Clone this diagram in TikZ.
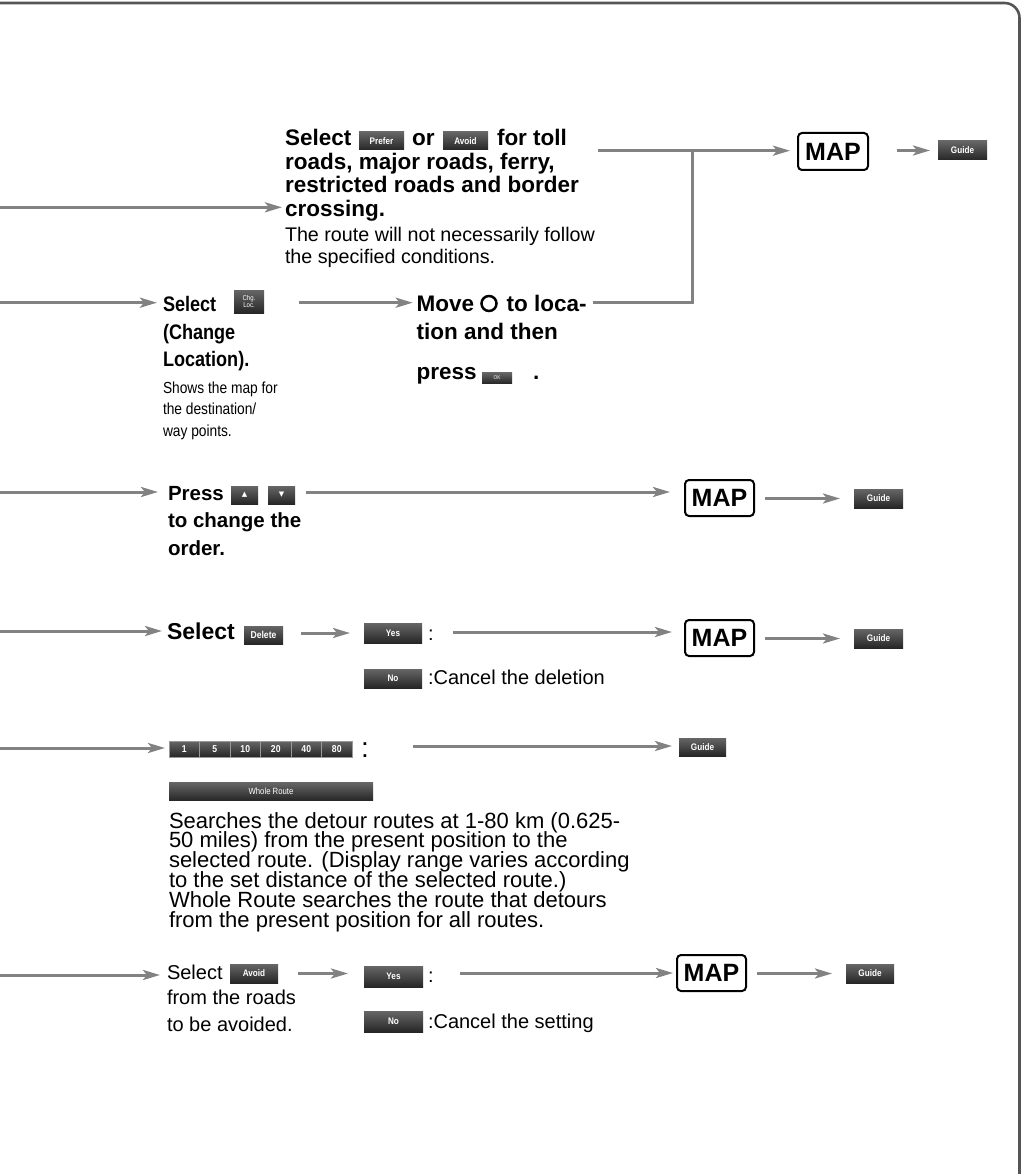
\documentclass[tikz,border=0pt]{standalone}
\usepackage{fontspec}
\setmainfont{Liberation Sans}
\newfontfamily\narrowfont[FakeStretch=0.86]{Liberation Sans}
\newfontfamily\symfont{DejaVu Sans}
\usetikzlibrary{arrows.meta}
\definecolor{linegray}{HTML}{828282}
\definecolor{framegray}{HTML}{555555}
\begin{document}
\begin{tikzpicture}[x=1pt,y=-1pt,
  arr/.style={draw=linegray, line width=3pt, -{Stealth[length=17pt,width=10pt,inset=4pt]}},
  ln/.style={draw=linegray, line width=3pt},
  tb/.style={anchor=base west, inner sep=0pt, outer sep=0pt},
  bA/.style={tb, font=\fontsize{22.5}{24}\selectfont\bfseries},
  rA/.style={tb, font=\fontsize{19.7}{22}\selectfont},
  bN/.style={tb, font=\narrowfont\fontsize{21}{24}\selectfont\bfseries},
  rN/.style={tb, font=\narrowfont\fontsize{16}{18}\selectfont},
  bB/.style={tb, font=\fontsize{20.5}{24}\selectfont\bfseries},
  bC/.style={tb, font=\fontsize{23}{24}\selectfont\bfseries},
  rB/.style={tb, font=\fontsize{20}{22}\selectfont},
  rC/.style={tb, font=\fontsize{22}{22}\selectfont},
  bsz/.style n args={2}{minimum width=#1, minimum height=#2},
  btn/.style={anchor=north west, inner sep=0pt, outer sep=0pt, top color=black!60, bottom color=black!85, text=white, font=\narrowfont\bfseries\fontsize{9.5}{9.5}\selectfont},
  mapbox/.style={anchor=north west, draw=black, line width=2pt, rounded corners=4pt, inner sep=0pt, outer sep=0pt, font=\fontsize{25}{25}\selectfont\bfseries},
]
\useasboundingbox (0,0) rectangle (1022,1174);
% frame
\draw[framegray, line width=2.6pt, rounded corners=15pt] (0,3) -- (1019.5,3) -- (1019.5,1176);

% ---------- free ends ----------
\coordinate (in1) at (0,207.3);
\coordinate (in2) at (0,302.7);
\coordinate (in3) at (0,492);
\coordinate (in4) at (0,631);
\coordinate (in5) at (0,748);
\coordinate (in6) at (0,975);

% ---------- row 1 ----------
\node[bA] (r1a) at (285,146) {Select};
\node[btn, bsz={45pt}{18pt}] (prefer) at (359,132) {Prefer};
\node[bA] (r1or) at (412,146) {or};
\node[btn, bsz={45pt}{18pt}] (avoid1) at (443,132) {Avoid};
\node[bA] (r1ft) at (497,146) {for toll};
\node[bA] (r1b) at (285,169.5) {roads, major roads, ferry,};
\node[bA] (r1c) at (285,193) {restricted roads and border};
\node[bA] (r1d) at (285,216.5) {crossing.};
\node[rA] (r1e) at (285,241.7) {The route will not necessarily follow};
\node[rA] (r1f) at (285,263.3) {the specified conditions.};
\coordinate (r1out) at (598,150.7);
\coordinate (j1) at (692,150.7);
\node[mapbox, bsz={70pt}{37pt}] (map1) at (798,133) {MAP};
\node[btn, bsz={49pt}{19pt}] (guide1) at (938,141) {Guide};

\draw[arr, shorten >=3pt] (in1) -- (in1 -| r1d.west);
\draw[arr, shorten >=8pt] (r1out) -- (r1out -| map1.west);
\draw[arr, shorten <=29pt, shorten >=8pt] (map1.east |- guide1.west) -- (guide1.west);

% ---------- row 2 ----------
\node[bN] (r2a) at (163,311) {Select};
\node[btn, bsz={30pt}{23pt}, align=center, font=\narrowfont\fontsize{7}{7}\selectfont] (chgloc) at (234,290) {Chg.\\Loc.};
\node[bN] (r2b) at (163,339) {(Change};
\node[bN] (r2c) at (163,366) {Location).};
\node[rN] (r2d) at (163,393) {Shows the map for};
\node[rN] (r2e) at (163,414.5) {the destination/};
\node[rN] (r2f) at (163,436) {way points.};

\node[bA] (mv1) at (416.7,311) {Move};
\node[draw=black, circle, line width=2.5pt, minimum size=15pt, inner sep=0pt] (cursor) at (489,303.5) {};
\node[bA] (mv2) at (506.7,311) {to loca-};
\node[bA] (mv3) at (416.7,339) {tion and then};
\node[bA] (mv4) at (416.7,379) {press};
\node[btn, bsz={30pt}{11pt}, font=\narrowfont\fontsize{5.5}{5.5}\selectfont] (okbtn) at (482,372.5) {OK};
\node[bA] (mv5) at (533,379) {.};
\coordinate (r2out) at (593,302.7);

\draw[arr, shorten >=6pt] (in2) -- (in2 -| r2a.west);
\draw[arr, shorten <=35pt, shorten >=4pt] (chgloc.east |- in2) -- (in2 -| mv1.west);
\draw[ln] (r2out) -| (j1);

% ---------- row 3 ----------
\node[bB] (r3a) at (168,500) {Press};
\node[btn, bsz={27pt}{18pt}, font=\symfont\fontsize{7}{7}\selectfont] (upbtn) at (231,486) {▲};
\node[btn, bsz={27pt}{18pt}, font=\symfont\fontsize{7}{7}\selectfont] (dnbtn) at (268,486) {▼};
\node[bB] (r3b) at (168,527) {to change the};
\node[bB] (r3c) at (168,555) {order.};
\coordinate (r3out) at (306,492);
\node[mapbox, bsz={69pt}{36pt}] (map2) at (685,480) {MAP};
\node[btn, bsz={49pt}{19pt}] (guide2) at (854,489) {Guide};

\draw[arr, shorten >=10pt] (in3) -- (in3 -| r3a.west);
\draw[arr, shorten >=15pt] (r3out) -- (r3out -| map2.west);
\draw[arr, shorten <=11pt, shorten >=14pt] (map2.east |- guide2.west) -- (guide2.west);

% ---------- row 4 ----------
\node[bC] (r4a) at (167,639) {Select};
\node[btn, bsz={39pt}{18pt}, font=\narrowfont\bfseries\fontsize{10}{10}\selectfont] (delbtn) at (244,626) {Delete};
\node[btn, bsz={58pt}{20pt}] (yes4) at (364,623) {Yes};
\node[rB] (c4a) at (428,640) {:};
\node[btn, bsz={58pt}{19pt}] (no4) at (364,669) {No};
\node[rB] (c4b) at (428,684.5) {:Cancel the deletion};
\coordinate (r4out) at (453,632);
\node[mapbox, bsz={69pt}{36pt}] (map3) at (685,620) {MAP};
\node[btn, bsz={49pt}{19pt}] (guide4) at (854,629) {Guide};

\draw[arr, shorten >=5pt] (in4) -- (in4 -| r4a.west);
\draw[arr, shorten <=18pt, shorten >=14pt] (delbtn.east |- yes4.west) -- (yes4.west);
\draw[arr, shorten >=13pt] (r4out) -- (r4out -| map3.west);
\draw[arr, shorten <=11pt, shorten >=14pt] (map3.east |- guide4.west) -- (guide4.west);

% ---------- row 5 ----------
\foreach \lab [count=\i] in {1,5,10,20,40,80}
  \node[btn, bsz={30.5pt}{16pt}, draw=black!40, line width=0.6pt, font=\narrowfont\bfseries\fontsize{10}{10}\selectfont] (num\i) at ({169+30.5*(\i-1)},741) {\lab};
\node[tb, font=\fontsize{28}{28}\selectfont] (c5) at (361,757.5) {:};
\coordinate (r5out) at (413,746);
\node[btn, bsz={47pt}{18pt}] (guide5) at (679,738) {Guide};
\node[btn, bsz={204pt}{18pt}, font=\narrowfont\fontsize{9}{9}\selectfont] (whole) at (169,782.5) {Whole Route};
\node[rC] (r5a) at (169,828) {Searches the detour routes at 1-80 km (0.625-};
\node[rC] (r5b) at (169,847.5) {50 miles) from the present position to the};
\node[rC] (r5c) at (169,867) {selected route. (Display range varies according};
\node[rC] (r5d) at (169,887) {to the set distance of the selected route.)};
\node[rC] (r5e) at (169,907) {Whole Route searches the route that detours};
\node[rC] (r5f) at (169,927) {from the present position for all routes.};

\draw[arr, shorten >=4pt] (in5) -- (in5 -| num1.west);
\draw[arr, shorten >=7pt] (r5out) -- (r5out -| guide5.west);

% ---------- row 6 ----------
\node[rB] (r6a) at (167,979) {Select};
\node[btn, bsz={48pt}{19pt}] (avoid6) at (230,964) {Avoid};
\node[rB] (r6b) at (167,1004) {from the roads};
\node[rB] (r6c) at (167,1031) {to be avoided.};
\node[btn, bsz={59pt}{21pt}] (yes6) at (364,966) {Yes};
\node[rB] (c6a) at (428,982) {:};
\node[btn, bsz={59pt}{21pt}] (no6) at (364,1011) {No};
\node[rB] (c6b) at (428,1028) {:Cancel the setting};
\coordinate (r6out) at (460,973);
\node[mapbox, bsz={69pt}{36pt}] (map4) at (677,955) {MAP};
\node[btn, bsz={48pt}{19pt}] (guide6) at (846,964) {Guide};

\draw[arr, shorten >=7pt] (in6) -- (in6 -| r6a.west);
\draw[arr, shorten <=20pt, shorten >=16pt] (avoid6.east) -- (avoid6.east -| yes6.west);
\draw[arr, shorten >=4pt] (r6out) -- (r6out -| map4.west);
\draw[arr, shorten <=11pt, shorten >=14pt] (map4.east |- guide6.west) -- (guide6.west);
\end{tikzpicture}
\end{document}
